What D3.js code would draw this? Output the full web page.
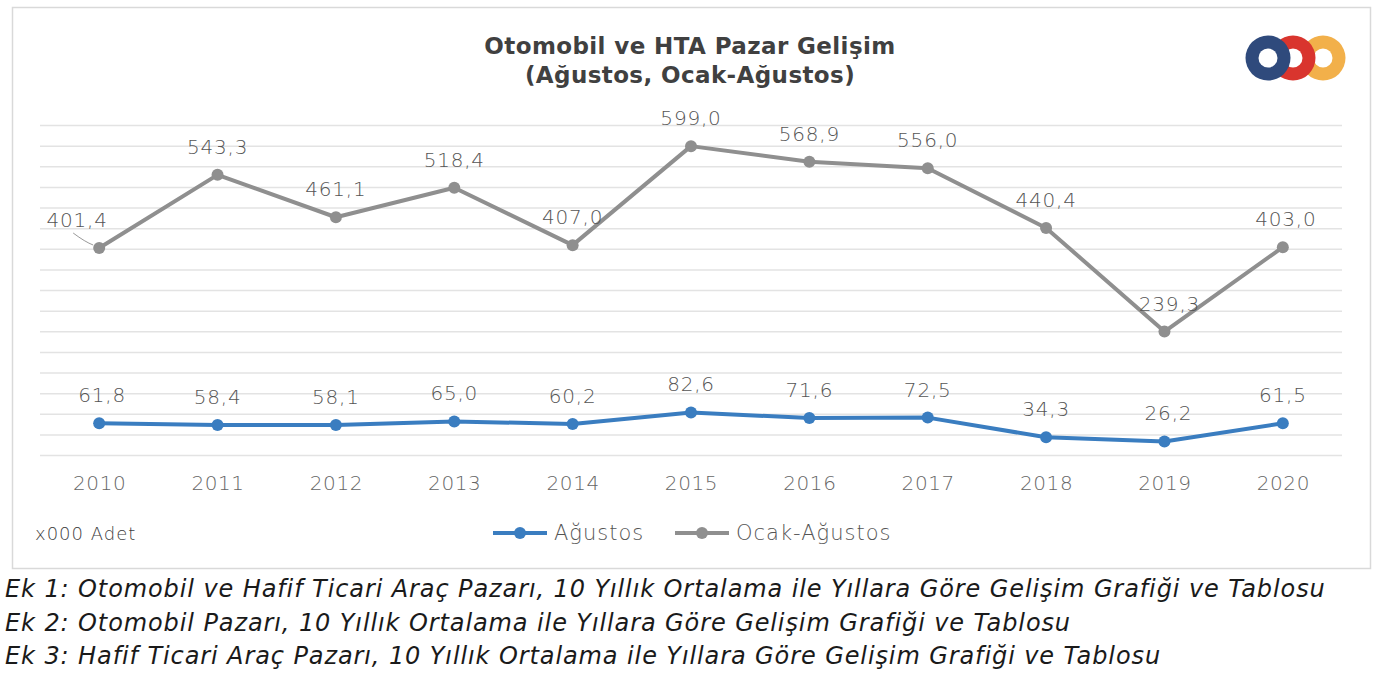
<!DOCTYPE html>
<html>
<head>
<meta charset="utf-8">
<script src="https://cdn.jsdelivr.net/npm/d3@7"></script>
<style>
  html, body { margin: 0; padding: 0; background: #ffffff; }
  svg { display: block; }
</style>
</head>
<body>
<svg id="chart" width="1382" height="675"></svg>
<script>
const years = ["2010","2011","2012","2013","2014","2015","2016","2017","2018","2019","2020"];
const agustos = [61.8, 58.4, 58.1, 65.0, 60.2, 82.6, 71.6, 72.5, 34.3, 26.2, 61.5];
const ocakAgustos = [401.4, 543.3, 461.1, 518.4, 407.0, 599.0, 568.9, 556.0, 440.4, 239.3, 403.0];
const seriesNames = ["Ağustos", "Ocak-Ağustos"];
const yTickValues = [0, 40, 80, 120, 160, 200, 240, 280, 320, 360, 400, 440, 480, 520, 560, 600, 640];
const titleLines = ["Otomobil ve HTA Pazar Gelişim", "(Ağustos, Ocak-Ağustos)"];
const unitLabel = "x000 Adet";
const captions = [
  "Ek 1: Otomobil ve Hafif Ticari Araç Pazarı, 10 Yıllık Ortalama ile Yıllara Göre Gelişim Grafiği ve Tablosu",
  "Ek 2: Otomobil Pazarı, 10 Yıllık Ortalama ile Yıllara Göre Gelişim Grafiği ve Tablosu",
  "Ek 3: Hafif Ticari Araç Pazarı, 10 Yıllık Ortalama ile Yıllara Göre Gelişim Grafiği ve Tablosu"
];

(function () {
const FONT = "'DejaVu Sans', 'Liberation Sans', sans-serif";
const colors = { agustos: "#3a7dc0", ocak: "#8f8f8f" };

const svg = d3.select("#chart");

// outer frame
svg.append("rect").attr("x", 12.5).attr("y", 7.5).attr("width", 1358).attr("height", 561)
  .attr("fill", "#fff").attr("stroke", "#d9d9d9").attr("stroke-width", 1.5);

const pLeft = 40, pRight = 1342, pTop = 125, pBottom = 455;
const x = d3.scalePoint().domain(years).range([pLeft, pRight]).padding(0.5);
const y = d3.scaleLinear().domain([0, 640]).range([pBottom, pTop]);

// gridlines
const grid = svg.append("g").attr("transform", `translate(${pLeft},0)`)
  .call(d3.axisLeft(y).tickValues(yTickValues).tickSize(-(pRight - pLeft)).tickFormat(""));
grid.select(".domain").remove();
grid.selectAll(".tick line").attr("stroke", "#e3e3e3").attr("stroke-width", 1.5);

// x axis labels
const xa = svg.append("g").attr("transform", `translate(0,${pBottom})`)
  .call(d3.axisBottom(x).tickSize(0).tickPadding(21));
xa.select(".domain").remove();
xa.selectAll("text").attr("font-family", FONT).attr("font-size", 20).attr("font-weight", 300)
  .attr("letter-spacing", 0.6).attr("fill", "#666").attr("dy", "0.71em");

// title
svg.append("g").selectAll("text").data(titleLines).join("text")
  .attr("x", 690).attr("y", (d, i) => 54 + i * 29)
  .attr("text-anchor", "middle").attr("font-family", FONT).attr("font-weight", "bold")
  .attr("font-size", 23).attr("letter-spacing", 0.4).attr("fill", "#404040").text(d => d);

// logo
const logo = svg.append("g");
[["#f2b04a", 1323], ["#d9352e", 1293], ["#2f4a7c", 1268]].forEach(([c, cx]) => {
  logo.append("circle").attr("cx", cx).attr("cy", 58).attr("r", 22.5).attr("fill", c);
  logo.append("circle").attr("cx", cx).attr("cy", 58).attr("r", 9.5).attr("fill", "#fff");
});

const fmt = v => d3.format(".1f")(v).replace(".", ",");
const line = d3.line().x((d, i) => x(years[i])).y(d => y(d));

function drawSeries(values, color, labelDx) {
  const g = svg.append("g");
  g.append("path").datum(values).attr("d", line).attr("fill", "none")
    .attr("stroke", color).attr("stroke-width", 4).attr("stroke-linejoin", "round");
  g.selectAll("circle").data(values).join("circle")
    .attr("cx", (d, i) => x(years[i])).attr("cy", d => y(d)).attr("r", 6).attr("fill", color);
  g.selectAll("text").data(values).join("text")
    .attr("x", (d, i) => x(years[i]) + (labelDx[i] || 0)).attr("y", d => y(d) - 21)
    .attr("text-anchor", "middle").attr("font-family", FONT).attr("font-size", 20)
    .attr("letter-spacing", 0.8).attr("font-weight", 300).attr("fill", "#555").text(d => fmt(d));
}

drawSeries(ocakAgustos, colors.ocak, { 0: -22, 10: 3, 9: 5 });
drawSeries(agustos, colors.agustos, { 0: 3, 9: 4 });

// leader line for first label
svg.append("path")
  .attr("d", `M${x(years[0]) - 26},${y(ocakAgustos[0]) - 15} Q${x(years[0]) - 14},${y(ocakAgustos[0]) - 6} ${x(years[0]) - 6},${y(ocakAgustos[0]) - 3}`)
  .attr("fill", "none").attr("stroke", "#999").attr("stroke-width", 1);

// unit label
svg.append("text").attr("x", 35).attr("y", 540).attr("font-family", FONT).attr("font-size", 18)
  .attr("letter-spacing", 1).attr("font-weight", 300).attr("fill", "#404040").text(unitLabel);

// legend
const legend = svg.append("g");
const legItems = [
  { name: seriesNames[0], color: colors.agustos, x0: 493 },
  { name: seriesNames[1], color: colors.ocak, x0: 675 }
];
legItems.forEach(it => {
  legend.append("line").attr("x1", it.x0).attr("x2", it.x0 + 54).attr("y1", 533).attr("y2", 533)
    .attr("stroke", it.color).attr("stroke-width", 4);
  legend.append("circle").attr("cx", it.x0 + 27).attr("cy", 533).attr("r", 6).attr("fill", it.color);
  legend.append("text").attr("x", it.x0 + 61).attr("y", 533).attr("dy", "0.35em")
    .attr("font-family", FONT).attr("font-size", 21).attr("font-weight", 300)
    .attr("letter-spacing", 1).attr("fill", "#555").text(it.name);
});

// captions
svg.append("g").selectAll("text").data(captions).join("text")
  .attr("x", 5).attr("y", (d, i) => 597 + i * 33.5)
  .attr("font-family", FONT).attr("font-style", "italic").attr("font-size", 24)
  .attr("letter-spacing", 0.9).attr("fill", "#1a1a1a").text(d => d);
})();
</script>
</body>
</html>
